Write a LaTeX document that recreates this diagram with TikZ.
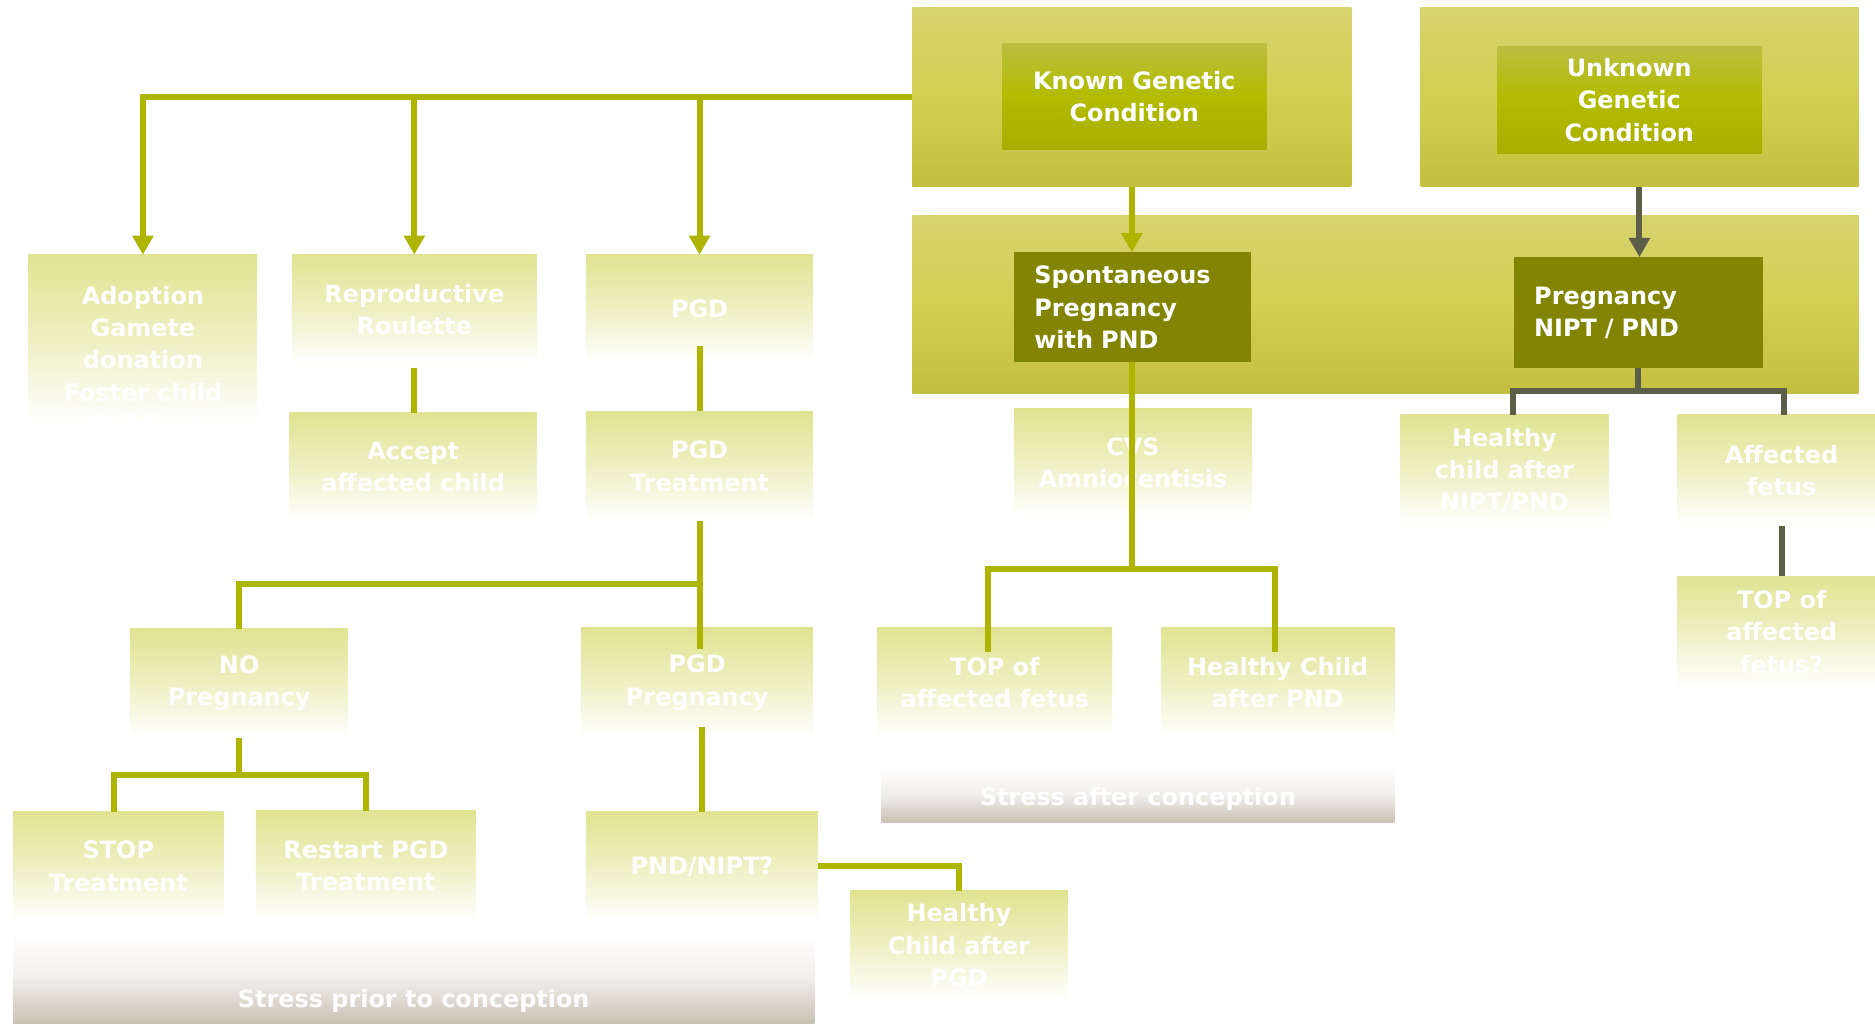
\documentclass[tikz,border=0pt]{standalone}
\usepackage{fontspec}
\setmainfont{DejaVu Sans}
\usetikzlibrary{arrows.meta}
\definecolor{lineG}{RGB}{173,181,0}
\definecolor{lineD}{RGB}{93,94,72}
\definecolor{darkOl}{RGB}{130,133,3}
\definecolor{bigT}{RGB}{214,212,110}
\definecolor{bigM}{RGB}{210,207,82}
\definecolor{bigB}{RGB}{196,191,62}
\definecolor{inT}{RGB}{186,190,64}
\definecolor{inM}{RGB}{178,188,0}
\definecolor{inB}{RGB}{168,174,0}
\definecolor{ltT}{RGB}{224,227,145}
\definecolor{stB}{RGB}{200,192,178}
\begin{document}
\begin{tikzpicture}[x=1pt,y=-1pt,
  every node/.style={inner sep=0pt,outer sep=0pt,text=white,align=center,
    font=\fontsize{20}{27}\selectfont\bfseries},
  bigbox/.style={top color=bigT,bottom color=bigB,middle color=bigM,draw=none},
  inbox/.style={top color=inT,bottom color=inB,middle color=inM,draw=none},
  darkbox/.style={fill=darkOl,draw=none,align=left},
  lbox/.style={top color=ltT,bottom color=white,middle color=ltT!55!white,draw=none},
  stressbox/.style={top color=white,bottom color=stB,middle color=stB!25!white,draw=none},
  conn/.style={line width=5pt,draw=lineG},
  connD/.style={line width=5pt,draw=lineD},
  arr/.style={-{Triangle[width=17pt,length=16pt]}}]
\useasboundingbox (0,0) rectangle (1568,856);
\fill[white] (0,0) rectangle (1568,856);
% stress backgrounds
\node[stressbox,minimum width=670pt,minimum height=76pt] (stressprior) at (346,818) {};
\node (stresspriortext) at (346,837) {Stress prior to conception};
\node[stressbox,minimum width=429pt,minimum height=48pt] (stressafter) at (951.5,664) {};
\node (stressaftertext) at (951.5,668) {Stress after conception};
% big boxes
\node[bigbox,minimum width=367pt,minimum height=150pt] (knownbig) at (946.5,81) {};
\node[bigbox,minimum width=366pt,minimum height=150pt] (unknownbig) at (1371,81) {};
\node[bigbox,minimum width=791pt,minimum height=149pt] (midbig) at (1158.5,254.5) {};
\node[inbox,minimum width=221pt,minimum height=89pt] (knownin) at (948.5,80.5) {Known Genetic\\Condition};
\node[inbox,minimum width=221pt,minimum height=89pt] (unknownin) at (1362.5,83.5) {Unknown\\Genetic\\Condition};
\node[darkbox,text width=164pt,inner xsep=17pt,minimum height=92pt] (spont) at (947,257) {Spontaneous\\Pregnancy\\with PND};
\node[darkbox,text width=174pt,inner xsep=17pt,minimum height=93pt] (nipt) at (1370,261.5) {Pregnancy\\NIPT / PND};
% light boxes
\node[lbox,minimum width=191pt,minimum height=142pt] (adoption) at (119.5,284) {};
\node (adoptiontext) at (119.5,301) {Adoption\\Gamete\\donation\\Foster child\\Childless};
\node[lbox,minimum width=205pt,minimum height=92pt] (roulette) at (346.5,259) {Reproductive\\Roulette};
\node[lbox,minimum width=190pt,minimum height=90pt] (pgd) at (585,258) {PGD};
\node[lbox,minimum width=207pt,minimum height=91pt] (accept) at (345.5,390.5) {Accept\\affected child};
\node[lbox,minimum width=190pt,minimum height=92pt] (pgdtreat) at (585,390) {PGD\\Treatment};
\node[lbox,minimum width=182pt,minimum height=91pt] (nopreg) at (200,571.5) {NO\\Pregnancy};
\node[lbox,minimum width=194pt,minimum height=92pt] (pgdpreg) at (583,571) {PGD\\Pregnancy};
\node[lbox,minimum width=176pt,minimum height=91pt] (stop) at (99,724.5) {STOP\\Treatment};
\node[lbox,minimum width=184pt,minimum height=92pt] (restart) at (306,724) {Restart PGD\\Treatment};
\node[lbox,minimum width=194pt,minimum height=91pt] (pndnipt) at (587,724.5) {PND/NIPT?};
\node[lbox,minimum width=182pt,minimum height=91pt] (healthypgd) at (802,790.5) {Healthy\\Child after\\PGD};
\node[lbox,minimum width=199pt,minimum height=90pt] (cvs) at (947.5,387) {CVS\\Amniocentisis};
\node[lbox,minimum width=196pt,minimum height=92pt] (topfetus) at (832,571) {TOP of\\affected fetus};
\node[lbox,minimum width=195pt,minimum height=92pt] (healthypnd) at (1068.5,571) {Healthy Child\\after PND};
\node[lbox,minimum width=174pt,minimum height=93pt] (healthynipt) at (1258,393.5) {Healthy\\child after\\NIPT/PND};
\node[lbox,minimum width=174pt,minimum height=93pt] (affected) at (1490,393.5) {Affected\\fetus};
\node[lbox,minimum width=174pt,minimum height=93pt] (topq) at (1490,528.5) {TOP of\\affected\\fetus?};
% connectors
\draw[conn,arr] (knownbig.west) -| (adoption.north);
\draw[conn,arr] (knownbig.west) -| (roulette.north);
\draw[conn,arr] (knownbig.west) -| (pgd.north);
\draw[conn,arr] (knownbig.south) -- (knownbig.south |- spont.north);
\draw[connD,arr] (unknownbig.south) -- (unknownbig.south |- nipt.north);
\draw[conn] ([yshift=-3pt]roulette.south) -- (roulette.south |- accept.north);
\draw[conn] ([yshift=14pt]pgd.south) -- (pgdtreat.north);
\coordinate (b1) at (pgdtreat.south |- 0,488);
\draw[conn] (pgdtreat.south) -- ([yshift=-18pt]pgdtreat.south |- pgdpreg.north);
\draw[conn] (b1) -| (nopreg.north);
\coordinate (b2) at (nopreg.south |- 0,648);
\draw[conn] (nopreg.south) -- (b2);
\draw[conn] ([xshift=-4pt]stop.north) |- (b2) -| (restart.north);
\draw[conn] ([yshift=9pt]pndnipt.north |- pgdpreg.south) -- (pndnipt.north);
\draw[conn] (pndnipt.east) -| (healthypgd.north);
\coordinate (b3) at (spont.south |- 0,476);
\draw[conn] (spont.south) -- (b3);
\draw[conn] ([xshift=-6pt,yshift=-20pt]topfetus.north) |- (b3) -| ([xshift=-2pt,yshift=-20pt]healthypnd.north);
\coordinate (b4) at (nipt.south |- 0,327);
\draw[connD] (nipt.south) -- (b4);
\draw[connD] ([xshift=7pt]healthynipt.north) |- (b4) -| ([xshift=2pt]affected.north);
\draw[connD] (affected.south) -- (topq.north);
\end{tikzpicture}
\end{document}
